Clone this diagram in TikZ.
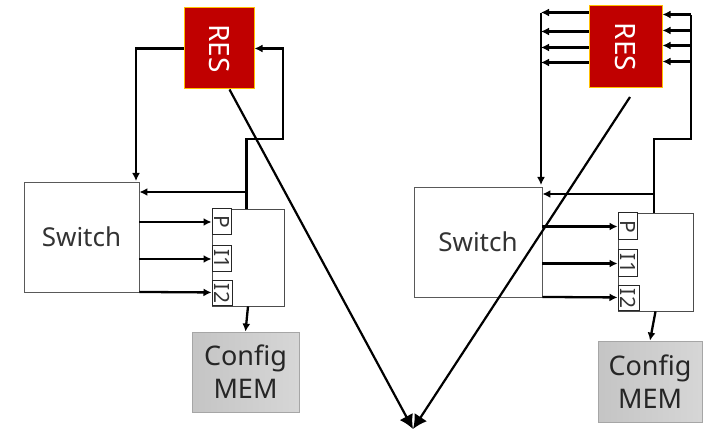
\documentclass[tikz,border=0pt]{standalone}
\usepackage{fontspec}
\setmainfont{Noto Sans}
\usetikzlibrary{arrows.meta,calc}
\definecolor{resred}{HTML}{C00000}
\definecolor{resedge}{HTML}{FFC000}
\definecolor{txt}{HTML}{333333}
\tikzset{
  wire/.style={line width=2.3pt},
  conn/.style={line width=2.3pt,-{Latex[length=8pt,width=8pt]}},
  bigconn/.style={line width=2.2pt,-{Latex[length=14pt,width=15pt]}},
  resbox/.style={draw=resedge,fill=resred,line width=1pt,inner sep=0pt,
    text=white,font=\fontsize{28}{28}\selectfont},
  swbox/.style={draw=black!65,line width=0.9pt,fill=white,inner sep=0pt,
    text=txt,font=\fontsize{26}{26}\selectfont},
  blkbox/.style={draw=black!70,line width=0.9pt,fill=white,inner sep=0pt},
  portbox/.style={draw=black!85,line width=1pt,fill=white,inner sep=0pt,
    text=txt,font=\fontsize{21}{21}\selectfont},
  membox/.style={draw=gray!70,line width=0.8pt,left color=gray!46,right color=gray!32,
    inner sep=0pt,align=center,text=black!85,font=\fontsize{27}{33}\selectfont},
}
\begin{document}
\begin{tikzpicture}[x=1pt,y=-1pt]
\useasboundingbox (0,0) rectangle (712,438);

% ---------- left tile ----------
\node[resbox,minimum width=70pt,minimum height=81pt] (resL) at (219,48.5) {\rotatebox{-90}{RES}};
\node[swbox,minimum width=115pt,minimum height=110pt] (switchL) at (81.5,237) {Switch};
\node[blkbox,minimum width=72pt,minimum height=97pt] (portL) at (248,257.5) {};
\node[portbox,minimum width=19pt,minimum height=26pt] (pL) at (221.5,222) {\rotatebox{-90}{P}};
\node[portbox,minimum width=19pt,minimum height=26pt] (i1L) at (221.5,259) {\rotatebox{-90}{I1}};
\node[portbox,minimum width=20pt,minimum height=25pt] (i2L) at (222,293.5) {\rotatebox{-90}{I2}};
\node[membox,minimum width=107pt,minimum height=80pt] (memL) at (245.5,372) {Config\\MEM};

\coordinate (aL) at (136,181);
\coordinate (jL) at (246.5,192);
\coordinate (kL) at (283,139);
\draw[conn] (resL.west) -| (aL);
\draw[conn] (portL.north -| jL) |- (kL) |- (resL.east);
\draw[conn] (jL) -- (jL -| switchL.east);
\draw[conn] (switchL.east |- pL.west) -- (pL.west);
\draw[conn] (switchL.east |- i1L.west) -- (i1L.west);
\draw[conn] ($(switchL.south east)+(0,-0.5)$) -- (switchL.south east -| i2L.west);
\draw[conn] (portL.south) -- (memL.north);

% ---------- right tile ----------
\node[resbox,minimum width=73pt,minimum height=82pt] (resR) at (625.5,47) {\rotatebox{-90}{RES}};
\node[swbox,minimum width=128pt,minimum height=110pt] (switchR) at (478,242) {Switch};
\node[blkbox,minimum width=75pt,minimum height=98pt] (portR) at (655.5,262) {};
\node[portbox,minimum width=19pt,minimum height=27pt] (pR) at (627.5,226.5) {\rotatebox{-90}{P}};
\node[portbox,minimum width=19pt,minimum height=27pt] (i1R) at (627.5,263.5) {\rotatebox{-90}{I1}};
\node[portbox,minimum width=21pt,minimum height=25pt] (i2R) at (628.5,298.5) {\rotatebox{-90}{I2}};
\node[membox,minimum width=104pt,minimum height=81pt] (memR) at (650,381.5) {Config\\MEM};

% output bus on the left of RES
\coordinate (busL) at (541,13);
\coordinate (busLb) at (541,185);
\foreach \dy/\n in {7/1,26/2,42/3,57/4}{
  \coordinate (o\n) at ($(resR.north west)+(0,\dy)$);
  \draw[conn] (o\n) -- (o\n -| busL);
}
\draw[conn] (busL) -- (busLb);

% input bus on the right of RES
\coordinate (busR) at (691,15);
\coordinate (kR) at (691,139);
\coordinate (jR) at (654,194);
\draw[wire] (busR) -- (kR) -| (jR) -- (portR.north -| jR);
\foreach \dy/\n in {9/1,25/2,40/3,56/4}{
  \coordinate (r\n) at ($(resR.north east)+(0,\dy)$);
  \draw[conn] (r\n -| busR) -- (r\n);
}
\draw[conn] (jR) -- (jR -| switchR.east);
\draw[conn] (switchR.east |- pR.west) -- (pR.west);
\draw[conn] (switchR.east |- i1R.west) -- (i1R.west);
\draw[conn] ($(switchR.south east)+(0,-0.5)$) -- (switchR.south east -| i2R.west);
\draw[conn] (portR.south) -- (memR.north);

% long links from both RES tiles to the shared sink
\coordinate (sink) at (413,429);
\coordinate (sR) at (630,97);
\draw[bigconn] (resL.south) ++(10.5,0) -- (sink);
\draw[bigconn] (sR) -- (sink);
\end{tikzpicture}
\end{document}
